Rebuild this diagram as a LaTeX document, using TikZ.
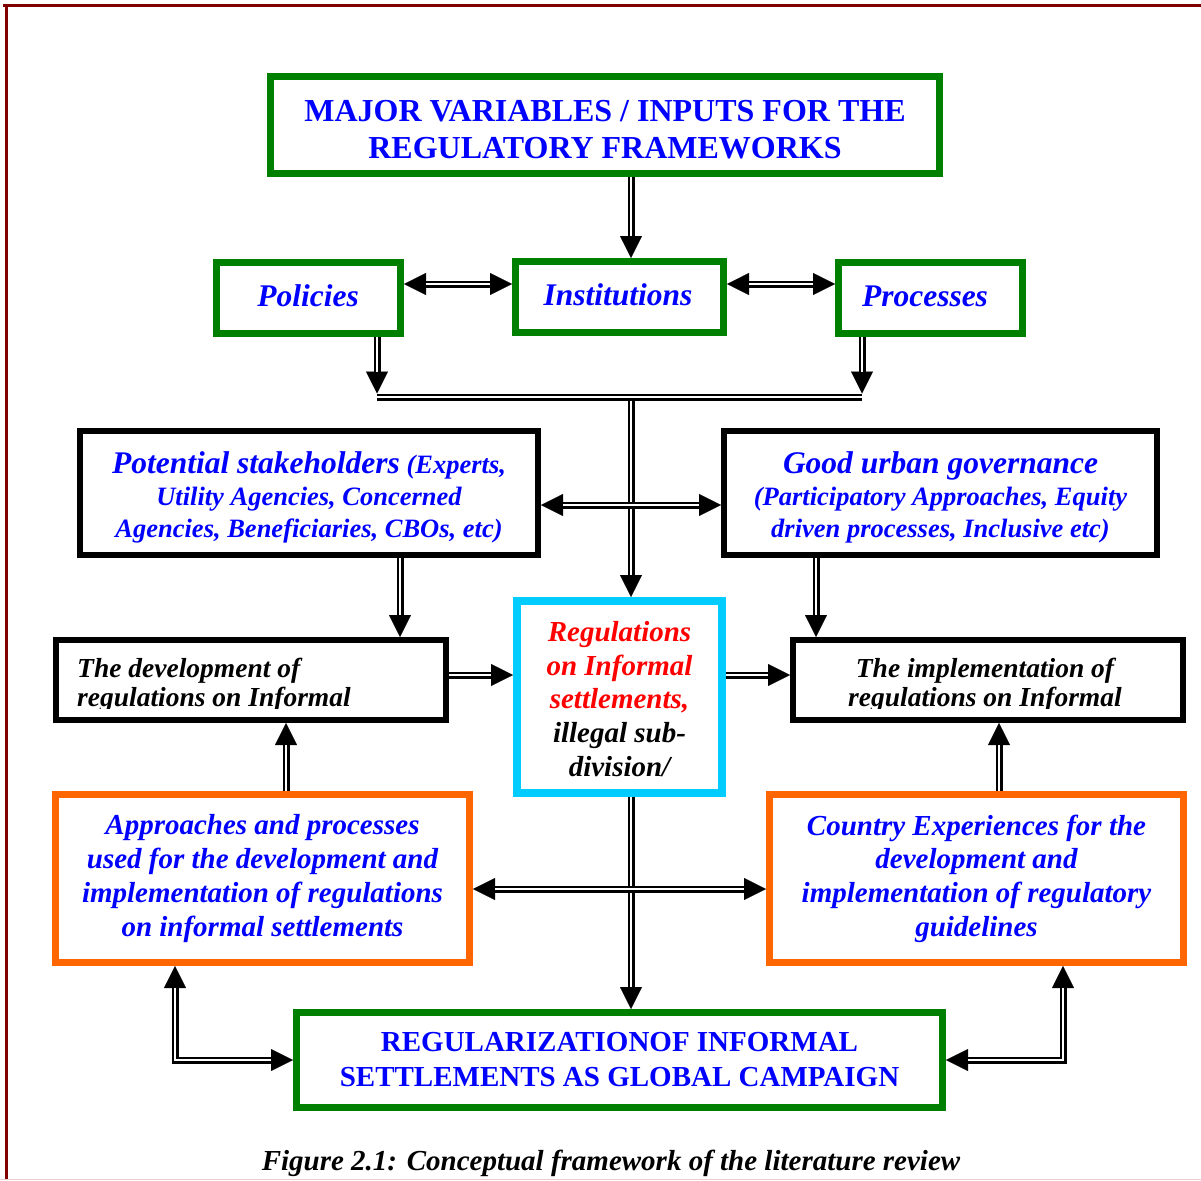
\documentclass[tikz,border=0pt]{standalone}
\usepackage{fontspec}
\setmainfont{Liberation Serif}
\usetikzlibrary{arrows.meta}
\definecolor{bxgreen}{RGB}{0,128,0}
\definecolor{bxcyan}{RGB}{0,204,255}
\definecolor{bxorange}{RGB}{255,102,0}
\definecolor{framered}{RGB}{128,0,0}
\definecolor{framepink}{RGB}{232,205,205}
\definecolor{txtblue}{RGB}{0,0,255}
\definecolor{txtred}{RGB}{255,0,0}
\newcommand{\fsz}[2]{\fontsize{#1}{#2}\selectfont}
\begin{document}
\begin{tikzpicture}[x=1pt,y=-1pt,
  >={Triangle[length=22pt,width=22pt,line width=0.1pt]},
  box/.style={draw, inner sep=0pt, align=center, text=txtblue},
  gbox/.style={box, draw=bxgreen, line width=7pt},
  kbox/.style={box, draw=black, line width=6pt},
  obox/.style={box, draw=bxorange, line width=7pt},
  cbox/.style={box, draw=bxcyan, line width=8pt},
  txt/.style={inner sep=0pt, align=center, text=txtblue},
  bi/.style={font=\bfseries\itshape\fsz{#1}{#1}},
  dr/.style={line width=7pt, ->, postaction={draw=white, line width=2.6pt, arrows=-, shorten >=22pt}},
  dlr/.style={line width=7pt, <->, postaction={draw=white, line width=2.6pt, arrows=-, shorten >=22pt, shorten <=22pt}},
  dln/.style={line width=7pt, postaction={draw=white, line width=2.6pt}}
]
\useasboundingbox (0,0) rectangle (1201,1180);
% page frame
\draw[framered, line width=3.5pt] (3,5.5) -- (1201,5.5);
\draw[framered, line width=3.5pt] (6.5,3.75) -- (6.5,1180);
\draw[framepink, line width=1pt] (0,1179.5) -- (1201,1179.5);

% boxes
\node[gbox, minimum width=669pt, minimum height=97pt] (top) at (605,125) {};
\node[txt, font=\bfseries\fsz{32}{37}] (topt) at (605,130)
  {MAJOR VARIABLES / INPUTS FOR THE\\REGULATORY FRAMEWORKS};
\node[gbox, minimum width=184pt, minimum height=71pt, bi=31.5] (pol) at (308.5,298) {};
\node[txt, bi=31.5] (polt) at (308,296) {Policies};
\node[gbox, minimum width=208pt, minimum height=71pt] (inst) at (619.5,297) {};
\node[txt, bi=31.5] (instt) at (618,295) {Institutions};
\node[gbox, minimum width=184pt, minimum height=71pt] (proc) at (930.5,298) {};
\node[txt, bi=31.5] (proct) at (925,296) {Processes};

\node[kbox, minimum width=458pt, minimum height=124pt] (stake) at (309,493) {};
\node[txt, font=\bfseries\itshape\fsz{26.5}{32}] (staket) at (309,497)
  {{\fsz{31.5}{32}Potential stakeholders} (Experts,\\Utility Agencies, Concerned\\Agencies, Beneficiaries, CBOs, etc)};
\node[kbox, minimum width=433pt, minimum height=124pt] (gov) at (940.5,493) {};
\node[txt, font=\bfseries\itshape\fsz{26.5}{32}] (govt) at (940.5,497)
  {{\fsz{31.5}{32}Good urban governance}\\(Participatory Approaches, Equity\\driven processes, Inclusive etc)};

\node[kbox, minimum width=390pt, minimum height=80pt] (dev) at (251,680) {};
\node[kbox, minimum width=390pt, minimum height=80pt] (impl) at (988,680) {};
\begin{scope}
  \clip (56,640) rectangle (446,708);
  \node[anchor=base west, inner sep=0pt, bi=27.5] (devA) at (77,677) {The development of};
  \node[anchor=base west, inner sep=0pt, bi=27.5] (devB) at (77,706) {regulations on Informal};
\end{scope}
\begin{scope}
  \clip (793,640) rectangle (1183,708);
  \node[anchor=base, inner sep=0pt, bi=27.5] (implA) at (985,677) {The implementation of};
  \node[anchor=base, inner sep=0pt, bi=27.5] (implB) at (985,706) {regulations on Informal};
\end{scope}

\node[cbox, minimum width=205pt, minimum height=192pt] (reg) at (619.5,697) {};
\node[txt, text=black, font=\bfseries\itshape\fsz{29}{33.7}] (regt) at (619.5,699)
  {\textcolor{txtred}{Regulations}\\\textcolor{txtred}{on Informal}\\\textcolor{txtred}{settlements,}\\illegal sub-\\division/};

\node[obox, minimum width=414pt, minimum height=168pt, font=\bfseries\itshape\fsz{29}{33.7}] (appr) at (262.5,878.5)
  {Approaches and processes\\used for the development and\\implementation of regulations\\on informal settlements};
\node[obox, minimum width=414pt, minimum height=168pt, font=\bfseries\itshape\fsz{29}{33.7}] (ctry) at (976.5,878.5)
  {Country Experiences for the\\development and\\implementation of regulatory\\guidelines};

\node[gbox, minimum width=646pt, minimum height=95pt, font=\bfseries\fsz{29}{35}] (regz) at (619.5,1060)
  {REGULARIZATIONOF INFORMAL\\SETTLEMENTS AS GLOBAL CAMPAIGN};

\node[inner sep=0pt, anchor=base, font=\bfseries\itshape\fsz{29}{29}] (cap) at (611,1170)
  {Figure 2.1: Conceptual framework of the literature review};

% reference coordinates
\coordinate (xc) at (631,0);
\coordinate (xpl) at (377,0);
\coordinate (xpr) at (862,0);
\coordinate (xsl) at (400,0);
\coordinate (xsr) at (816,0);
\coordinate (xal) at (286,0);
\coordinate (xar) at (999,0);
\coordinate (xbl) at (175,0);
\coordinate (xbr) at (1063,0);
\coordinate (yp) at (0,284);
\coordinate (ysg) at (0,505);
\coordinate (yrd) at (0,675);
\coordinate (yac) at (0,889);
\coordinate (jl) at (377,397);
\coordinate (jr) at (862,397);
\coordinate (jlt) at (377,393.5);
\coordinate (jrt) at (862,393.5);
\coordinate (jm) at (631,400.5);

% connectors
\draw[dr] (top.south -| xc) -- (inst.north -| xc);
\draw[dlr] (pol.east |- yp) -- (inst.west |- yp);
\draw[dlr] (inst.east |- yp) -- (proc.west |- yp);
\draw[dr] (pol.south -| xpl) -- (jlt);
\draw[dr] (proc.south -| xpr) -- (jrt);
\draw[dln] (jl) -- (jr);
\draw[dr] (jm) -- (reg.north -| xc);
\draw[dlr] (stake.east |- ysg) -- (gov.west |- ysg);
\draw[dr] (stake.south -| xsl) -- (dev.north -| xsl);
\draw[dr] (gov.south -| xsr) -- (impl.north -| xsr);
\draw[dr] (dev.east |- yrd) -- (reg.west |- yrd);
\draw[dr] (reg.east |- yrd) -- (impl.west |- yrd);
\draw[dr] (appr.north -| xal) -- (dev.south -| xal);
\draw[dr] (ctry.north -| xar) -- (impl.south -| xar);
\draw[dr] (reg.south -| xc) -- (regz.north -| xc);
\draw[dlr] (appr.east |- yac) -- (ctry.west |- yac);
\draw[dlr] (appr.south -| xbl) |- (regz.west);
\draw[dlr] (ctry.south -| xbr) |- (regz.east);
\end{tikzpicture}
\end{document}
